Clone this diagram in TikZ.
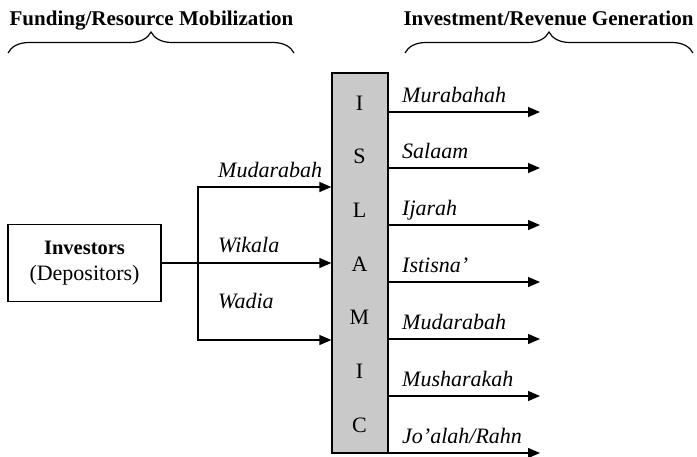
\documentclass[tikz,border=0pt]{standalone}
\usepackage{fontspec}
\setmainfont{Liberation Serif}
\usetikzlibrary{arrows.meta,decorations.pathreplacing}
\begin{document}
\begin{tikzpicture}[x=1pt, y=-1pt,
  headfont/.style={font=\fontsize{21}{24}\selectfont\bfseries},
  contract/.style={font=\fontsize{22}{24}\selectfont\itshape, anchor=base west, inner sep=0pt},
  letter/.style={font=\fontsize{22}{24}\selectfont, anchor=base, inner sep=0pt},
  bracket/.style={decorate, decoration={brace, amplitude=21pt}, line width=1.2pt},
  flow/.style={line width=1.3pt, -{Triangle[length=12pt, width=10pt]}}]
% Keep the page at the size of the reference
\useasboundingbox (0,0) rectangle (697,456);

% The two headings and their braces
\node[headfont, anchor=base] (fundtitle) at (151.5,25) {Funding/Resource Mobilization};
\node[headfont, anchor=base] (invtitle) at (548.5,25) {Investment/Revenue Generation};
\draw[bracket] (8,53) -- (294,53);
\draw[bracket] (405,53) -- (693,53);

% Investors box
\node[draw, line width=1.3pt, minimum width=153pt, minimum height=77pt, inner sep=0pt, align=center,
  font=\fontsize{22}{26}\selectfont] (investors) at (84.5,263)
  {{\fontsize{20.5}{26}\selectfont\bfseries Investors}\\(Depositors)};

% The bank column
\node[draw, line width=1.3pt, fill=gray!42, minimum width=56pt, minimum height=380pt, inner sep=0pt] (islamic) at (360,263) {};
\node[letter] (l1) at (359.5,110) {I};
\node[letter] (l2) at (359.5,163) {S};
\node[letter] (l3) at (359.5,217) {L};
\node[letter] (l4) at (359.5,271) {A};
\node[letter] (l5) at (359.5,324) {M};
\node[letter] (l6) at (359.5,378) {I};
\node[letter] (l7) at (359.5,432) {C};

% Funding side
\coordinate (forktop) at (198,187);
\coordinate (forkbot) at (198,340);
\draw[flow] (investors.east) -- (islamic.west |- investors.east);
\draw[line width=1.3pt, {Triangle[length=12pt, width=10pt]}-{Triangle[length=12pt, width=10pt]}]
  (islamic.west |- forktop) -- (forktop) -- (forkbot) -- (islamic.west |- forkbot);
\node[contract] (mudarabahin) at (218,177) {Mudarabah};
\node[contract] (wikala) at (218,252) {Wikala};
\node[contract] (wadia) at (218,308) {Wadia};

% Investment side
\coordinate (out1) at (540,112);
\coordinate (out2) at (540,168);
\coordinate (out3) at (540,225);
\coordinate (out4) at (540,282);
\coordinate (out5) at (540,339);
\coordinate (out6) at (540,396);
\coordinate (out7) at (540,453);
\draw[flow] (islamic.east |- out1) -- (out1);
\draw[flow] (islamic.east |- out2) -- (out2);
\draw[flow] (islamic.east |- out3) -- (out3);
\draw[flow] (islamic.east |- out4) -- (out4);
\draw[flow] (islamic.east |- out5) -- (out5);
\draw[flow] (islamic.east |- out6) -- (out6);
\draw[flow] (islamic.east |- out7) -- (out7);
\node[contract] (murabahah) at (402,102) {Murabahah};
\node[contract] (salaam) at (402,158) {Salaam};
\node[contract] (ijarah) at (402,215) {Ijarah};
\node[contract] (istisna) at (402,272) {Istisna'};
\node[contract] (mudarabahout) at (402,329) {Mudarabah};
\node[contract] (musharakah) at (402,386) {Musharakah};
\node[contract] (joalah) at (402,443) {Jo'alah/Rahn};
\end{tikzpicture}
\end{document}
